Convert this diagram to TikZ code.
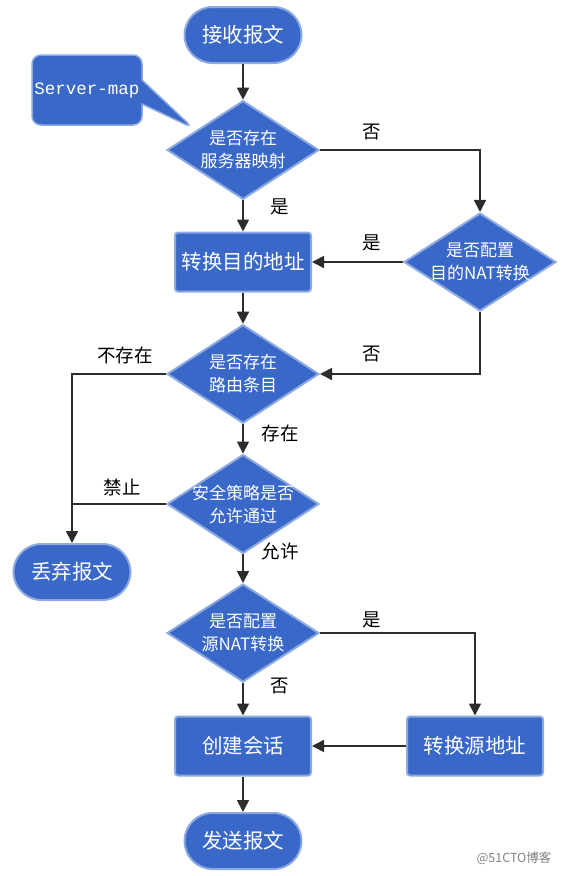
\documentclass[tikz,border=0pt]{standalone}
\usepackage{fontspec}
\newfontfamily\cjk{Noto Sans CJK SC}
\newfontfamily\mono{Liberation Mono}
\usetikzlibrary{shapes.geometric,shapes.callouts,arrows.meta}
\definecolor{nfill}{RGB}{58,104,200}
\definecolor{nedge}{RGB}{140,170,225}
\definecolor{lcol}{RGB}{45,45,45}
\newcommand\dl[1]{\makebox[60pt]{#1}}
\tikzset{
  base/.style={fill=nfill,draw=nedge,line width=2pt,text=white,font=\cjk\fontsize{20.5}{24}\selectfont,inner sep=0pt},
  term/.style={base,rectangle,rounded corners=28pt,minimum width=117pt,minimum height=56pt},
  procbox/.style={base,rectangle,rounded corners=3pt,minimum width=136pt,minimum height=59pt},
  dia/.style={base,diamond,minimum width=152pt,minimum height=90pt,align=center,font=\cjk\fontsize{17}{23}\selectfont},
  conn/.style={draw=lcol,line width=1.7pt,-{Triangle[width=12pt,length=12pt]}},
  plain/.style={draw=lcol,line width=1.7pt},
  lab/.style={font=\cjk\fontsize{18.5}{20}\selectfont,text=black,inner sep=0pt}
}
\begin{document}
\begin{tikzpicture}[x=1pt,y=-1pt]
\useasboundingbox (0,0) rectangle (572,876);
\node[term] (start) at (243,35) {接收报文};
\node[dia] (d1) at (243,150) {\dl{是否存在}\\\dl{服务器映射}};
\node[procbox] (b1) at (243,262) {转换目的地址};
\node[dia] (d2) at (480,262) {\dl{是否配置}\\\dl{目的NAT转换}};
\node[dia] (d3) at (243,374) {\dl{是否存在}\\\dl{路由条目}};
\node[dia] (d4) at (243,504) {\dl{安全策略是否}\\\dl{允许通过}};
\node[term] (drop) at (72,572) {丢弃报文};
\node[dia] (d5) at (243,633) {\dl{是否配置}\\\dl{源NAT转换}};
\node[procbox] (b2) at (243,746) {创建会话};
\node[procbox] (b3) at (475,746) {转换源地址};
\node[term] (end) at (243,841) {发送报文};
\coordinate (tip) at (193,128);
\node[fill=nfill,draw=nedge,line width=1.5pt,text=white,rectangle callout,rounded corners=9pt,
  minimum width=110pt,minimum height=70pt,inner sep=0pt,callout absolute pointer={(tip)},
  callout pointer width=24pt,font=\mono\fontsize{17.5}{20}\selectfont] (sm) at (87,90) {Server-map};
% connectors
\draw[conn] (start) -- (d1);
\draw[conn] (d1.east) -| (d2.north);
\draw[conn] (d1) -- (b1);
\draw[conn] (d2.west) -- (b1.east);
\draw[conn] (b1) -- (d3);
\draw[conn] (d2.south) |- (d3.east);
\draw[conn] (d3.west) -| (drop.north);
\draw[conn] (d3) -- (d4);
\coordinate (j) at (drop.north |- d4.west);
\draw[plain] (d4.west) -- (j);
\draw[conn] (d4) -- (d5);
\draw[conn] (d5.east) -| (b3.north);
\draw[conn] (d5) -- (b2);
\draw[conn] (b3.west) -- (b2.east);
\draw[conn] (b2) -- (end);
% labels
\node[lab] (l1) at (372,132) {否};
\node[lab] (l2) at (280,207) {是};
\node[lab] (l3) at (372,243) {是};
\node[lab] (l4) at (372,354) {否};
\node[lab] (l5) at (125,355) {不存在};
\node[lab] (l6) at (280,433) {存在};
\node[lab] (l7) at (122,487) {禁止};
\node[lab] (l8) at (280,551) {允许};
\node[lab] (l9) at (372,620) {是};
\node[lab] (l10) at (280,686) {否};
\node[font=\cjk\fontsize{12.5}{14}\selectfont,text=gray,inner sep=0pt] (wm) at (514,858) {@51CTO博客};
\end{tikzpicture}
\end{document}
